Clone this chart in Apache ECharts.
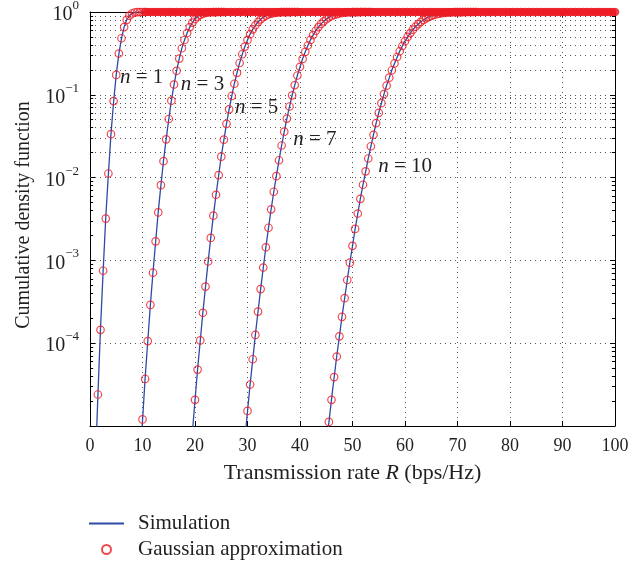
<!DOCTYPE html>
<html>
<head>
<meta charset="utf-8">
<script src="https://cdn.jsdelivr.net/npm/echarts@6/dist/echarts.min.js"></script>
<style>
html, body { margin: 0; padding: 0; background: #fff; }
#chart { width: 629px; height: 565px; }
</style>
</head>
<body>
<div id="chart"></div>
<script>
// rate grid used by both the simulation and the gaussian points (bps/Hz)
const rateGrid = [
    0, 0.5, 1, 1.5, 2, 2.5, 3, 3.5, 4, 4.5, 5, 5.5, 6, 6.5, 7, 7.5, 8, 8.5, 9, 9.5,
    10, 10.5, 11, 11.5, 12, 12.5, 13, 13.5, 14, 14.5, 15, 15.5, 16, 16.5, 17, 17.5, 18, 18.5, 19, 19.5,
    20, 20.5, 21, 21.5, 22, 22.5, 23, 23.5, 24, 24.5, 25, 25.5, 26, 26.5, 27, 27.5, 28, 28.5, 29, 29.5,
    30, 30.5, 31, 31.5, 32, 32.5, 33, 33.5, 34, 34.5, 35, 35.5, 36, 36.5, 37, 37.5, 38, 38.5, 39, 39.5,
    40, 40.5, 41, 41.5, 42, 42.5, 43, 43.5, 44, 44.5, 45, 45.5, 46, 46.5, 47, 47.5, 48, 48.5, 49, 49.5,
    50, 50.5, 51, 51.5, 52, 52.5, 53, 53.5, 54, 54.5, 55, 55.5, 56, 56.5, 57, 57.5, 58, 58.5, 59, 59.5,
    60, 60.5, 61, 61.5, 62, 62.5, 63, 63.5, 64, 64.5, 65, 65.5, 66, 66.5, 67, 67.5, 68, 68.5, 69, 69.5,
    70, 70.5, 71, 71.5, 72, 72.5, 73, 73.5, 74, 74.5, 75, 75.5, 76, 76.5, 77, 77.5, 78, 78.5, 79, 79.5,
    80, 80.5, 81, 81.5, 82, 82.5, 83, 83.5, 84, 84.5, 85, 85.5, 86, 86.5, 87, 87.5, 88, 88.5, 89, 89.5,
    90, 90.5, 91, 91.5, 92, 92.5, 93, 93.5, 94, 94.5, 95, 95.5, 96, 96.5, 97, 97.5, 98, 98.5, 99, 99.5,
    100
];

const curveNames = ['n = 1', 'n = 3', 'n = 5', 'n = 7', 'n = 10'];

// Gaussian approximation (circles), starting at gaussStart, step 0.5
const gaussStart = [1, 9.5, 19, 29.5, 44.5];
const gaussN1 = [3.2e-6, 2.4e-5, 1.45e-4, 7.5e-4, 3.2e-3, 1.12e-2, 3.35e-2, 8.4e-2, 0.174, 0.315,
    0.482, 0.658, 0.805, 0.903, 0.959, 0.986, 0.9957, 0.999, 0.9998, 1];
const gaussN3 = [3.7e-6, 1.2e-5, 3.7e-5, 1.06e-4, 2.9e-4, 7.1e-4, 1.7e-3, 3.8e-3, 8.1e-3, 1.58e-2,
    2.9e-2, 5.1e-2, 8.5e-2, 0.133, 0.195, 0.274, 0.365, 0.459, 0.558, 0.657,
    0.745, 0.82, 0.88, 0.924, 0.955, 0.975, 0.987, 0.9932, 0.9968, 0.9986,
    0.9994, 0.9998, 1];
const gaussN5 = [3.4e-6, 8.5e-6, 2.07e-5, 4.8e-5, 1.08e-4, 2.33e-4, 4.83e-4, 9.7e-4, 1.87e-3, 3.47e-3,
    6.2e-3, 1.07e-2, 1.79e-2, 2.87e-2, 4.46e-2, 6.68e-2, 9.68e-2, 0.136, 0.184, 0.242,
    0.309, 0.382, 0.46, 0.54, 0.618, 0.691, 0.758, 0.816, 0.864, 0.903,
    0.933, 0.955, 0.971, 0.982, 0.989, 0.9938, 0.9965, 0.9981, 0.999, 0.9995,
    0.9998, 1];
const gaussN7 = [7.1e-6, 1.52e-5, 3.17e-5, 6.4e-5, 1.26e-4, 2.41e-4, 4.5e-4, 8.2e-4, 1.44e-3, 2.48e-3,
    4.14e-3, 6.75e-3, 1.04e-2, 1.62e-2, 2.44e-2, 3.59e-2, 5.16e-2, 7.22e-2, 9.85e-2, 0.131,
    0.171, 0.218, 0.271, 0.33, 0.394, 0.46, 0.527, 0.594, 0.658, 0.718,
    0.772, 0.82, 0.861, 0.895, 0.923, 0.944, 0.961, 0.973, 0.982, 0.988,
    0.9927, 0.9955, 0.9973, 0.9984, 0.9991, 0.9995, 0.9997, 0.9998, 1];
const gaussN10 = [3.1e-6, 5.9e-6, 1.12e-5, 2.07e-5, 3.9e-5, 6.9e-5, 1.21e-4, 2.08e-4, 3.5e-4, 5.8e-4,
    9.4e-4, 1.5e-3, 2.4e-3, 3.68e-3, 5.54e-3, 8.2e-3, 1.19e-2, 1.7e-2, 2.39e-2, 3.29e-2,
    4.55e-2, 6.06e-2, 7.93e-2, 0.102, 0.129, 0.161, 0.198, 0.239, 0.286, 0.336,
    0.389, 0.444, 0.5, 0.556, 0.611, 0.664, 0.714, 0.76, 0.802, 0.839,
    0.871, 0.898, 0.921, 0.94, 0.955, 0.967, 0.976, 0.983, 0.988, 0.9918,
    0.9945, 0.9963, 0.9976, 0.9985, 0.9991, 0.9994, 0.9997, 0.9998, 1];

// simulation (blue lines), same grid; each line stops at simEnd
const simStart = [1, 9.5, 19, 29.5, 44.5];
const simEnd = [12, 27, 41.5, 56, 77];
const simN1 = [3.0e-6, 2.3e-5, 1.5e-4, 7.4e-4, 3.3e-3, 1.1e-2, 3.4e-2, 8.3e-2, 0.175, 0.313,
    0.481, 0.657, 0.806, 0.904, 0.958, 0.986, 0.9956, 0.9989, 0.9998, 1];
const simN3 = [3.5e-6, 1.15e-5, 3.8e-5, 1.05e-4, 2.9e-4, 7.2e-4, 1.68e-3, 3.85e-3, 8.0e-3, 1.6e-2,
    2.9e-2, 5.05e-2, 8.5e-2, 0.132, 0.196, 0.273, 0.366, 0.458, 0.559, 0.656,
    0.746, 0.821, 0.881, 0.924, 0.955, 0.975, 0.987, 0.9931, 0.9968, 0.9986,
    0.9994, 0.9998, 1];
const simN5 = [3.3e-6, 8.3e-6, 2.05e-5, 4.9e-5, 1.07e-4, 2.35e-4, 4.8e-4, 9.6e-4, 1.88e-3, 3.45e-3,
    6.2e-3, 1.06e-2, 1.8e-2, 2.86e-2, 4.47e-2, 6.7e-2, 9.66e-2, 0.137, 0.184, 0.243,
    0.308, 0.383, 0.46, 0.541, 0.617, 0.692, 0.757, 0.817, 0.863, 0.903,
    0.933, 0.955, 0.971, 0.982, 0.989, 0.9937, 0.9965, 0.9981, 0.999, 0.9995,
    0.9998, 1];
const simN7 = [7.0e-6, 1.5e-5, 3.2e-5, 6.3e-5, 1.27e-4, 2.4e-4, 4.5e-4, 8.1e-4, 1.45e-3, 2.47e-3,
    4.15e-3, 6.7e-3, 1.05e-2, 1.61e-2, 2.45e-2, 3.58e-2, 5.17e-2, 7.2e-2, 9.87e-2, 0.131,
    0.172, 0.217, 0.272, 0.33, 0.393, 0.461, 0.526, 0.595, 0.657, 0.719,
    0.771, 0.82, 0.862, 0.895, 0.922, 0.944, 0.961, 0.973, 0.982, 0.988,
    0.9926, 0.9955, 0.9972, 0.9984, 0.9991, 0.9995, 0.9997, 0.9998, 1];
const simN10 = [3.0e-6, 6.0e-6, 1.1e-5, 2.1e-5, 3.85e-5, 7.0e-5, 1.2e-4, 2.1e-4, 3.48e-4, 5.8e-4,
    9.5e-4, 1.49e-3, 2.41e-3, 3.66e-3, 5.56e-3, 8.2e-3, 1.18e-2, 1.71e-2, 2.38e-2, 3.3e-2,
    4.54e-2, 6.07e-2, 7.9e-2, 0.102, 0.13, 0.16, 0.199, 0.239, 0.285, 0.337,
    0.388, 0.445, 0.5, 0.557, 0.61, 0.665, 0.713, 0.761, 0.801, 0.84,
    0.87, 0.899, 0.92, 0.941, 0.955, 0.967, 0.976, 0.983, 0.988, 0.9917,
    0.9945, 0.9962, 0.9976, 0.9985, 0.9991, 0.9994, 0.9997, 0.9998, 1];

// circles from every curve sit on 10^0 from here to the end of the axis
const plateauStart = 10.5;
const plateauLevel = 1;

// where the "n = ..." annotations start (left edge, vertical centre)
const labelRates = [5.7, 17.3, 27.6, 38.7, 54.9];
const labelLevels = [0.16, 0.135, 0.071, 0.029, 0.0138];

const minorMantissa = [2, 3, 4, 5, 6, 7, 8, 9];
const minorDecades = [1e-5, 1e-4, 1e-3, 1e-2, 1e-1];

const FONT = 'Liberation Serif';
const TEXT = '#231f20';
const BLUE = '#2d4aa5';
const RED = '#ec1c24';
const DOTTED = { type: [1, 4], color: '#555', width: 1 };

function pairUp(start, values) {
    const i0 = rateGrid.indexOf(start);
    return values.map((v, i) => [rateGrid[i0 + i], v]);
}

const gaussSets = [gaussN1, gaussN3, gaussN5, gaussN7, gaussN10];
const simSets = [simN1, simN3, simN5, simN7, simN10];

const minorValues = [];
minorDecades.forEach(d => minorMantissa.forEach(m => minorValues.push(+(m * d).toPrecision(3))));

const series = [];

simSets.forEach((vals, k) => {
    series.push({
        name: 'Simulation',
        type: 'line',
        data: pairUp(simStart[k], vals).concat([[simEnd[k], 1]]),
        symbol: 'none',
        showSymbol: false,
        lineStyle: { color: BLUE, width: 1.3 },
        itemStyle: { color: BLUE },
        z: 3,
        markPoint: {
            symbol: 'circle',
            symbolSize: 0,
            silent: true,
            data: [{ name: curveNames[k], coord: [labelRates[k], labelLevels[k]] }],
            label: {
                show: true,
                position: 'right',
                distance: 0,
                fontFamily: FONT,
                fontSize: 21,
                color: TEXT,
                formatter: p => '{i|n}' + p.name.slice(1),
                rich: { i: { fontStyle: 'italic', fontFamily: FONT, fontSize: 21, color: TEXT } },
            },
        },
    });
});

const circleStyle = { color: 'transparent', borderColor: RED, borderWidth: 1.2 };

gaussSets.forEach((vals, k) => {
    series.push({
        name: 'Gaussian approximation',
        type: 'scatter',
        data: pairUp(gaussStart[k], vals),
        symbol: 'circle',
        symbolSize: 7.5,
        itemStyle: circleStyle,
        z: 4,
    });
});

const minorGrid = minorValues.map(v => ({ yAxis: v, lineStyle: DOTTED }));
const minorTicks = [];
minorValues.forEach(v => {
    minorTicks.push([{ coord: [0, v], lineStyle: { type: 'solid', color: '#000', width: 1 } }, { coord: [0.6, v] }]);
    minorTicks.push([{ coord: [99.4, v], lineStyle: { type: 'solid', color: '#000', width: 1 } }, { coord: [100, v] }]);
});

// the overlapping circles along 10^0 merge into a solid band
series.push({
    name: 'Gaussian approximation',
    type: 'scatter',
    data: rateGrid.filter(r => r >= plateauStart).map(r => [r, plateauLevel]),
    symbol: 'circle',
    symbolSize: 7.5,
    itemStyle: { color: RED, borderColor: RED, borderWidth: 1 },
    z: 4,
    markLine: {
        silent: true,
        symbol: ['none', 'none'],
        label: { show: false },
        animation: false,
        z: 1,
        data: minorGrid.concat(minorTicks),
    },
});

const yFormatter = v => {
    const e = Math.round(Math.log10(v));
    if (e < -4) return '';
    return '{b|10}{s|' + (e === 0 ? '0' : '\u2212' + (-e)) + '}';
};

const axisLine = { show: true, onZero: false, lineStyle: { color: '#000', width: 1 } };

const option = {
    animation: false,
    backgroundColor: '#fff',
    grid: { left: 90, right: 14, top: 12, bottom: 139, containLabel: false, outerBoundsMode: 'none' },
    legend: {
        data: [
            { name: 'Simulation', itemStyle: { opacity: 0 } },
            { name: 'Gaussian approximation' },
        ],
        orient: 'vertical',
        left: 88,
        top: 513,
        padding: 0,
        itemWidth: 35,
        itemHeight: 9,
        itemGap: 5,
        selectedMode: false,
        textStyle: { fontFamily: FONT, fontSize: 21, color: TEXT, lineHeight: 21, padding: [0, 0, 0, 9] },
    },
    xAxis: [
        {
            type: 'value',
            position: 'bottom',
            min: 0,
            max: 100,
            interval: 10,
            axisLine,
            axisTick: { inside: true, length: 5, lineStyle: { color: '#000' } },
            axisLabel: { fontFamily: FONT, fontSize: 18, color: TEXT, margin: 11 },
            splitLine: { show: true, lineStyle: DOTTED },
            name: 'Transmission rate {i|R} (bps/Hz)',
            nameLocation: 'middle',
            nameGap: 36,
            nameTextStyle: {
                fontFamily: FONT, fontSize: 22, color: TEXT,
                rich: { i: { fontStyle: 'italic', fontFamily: FONT, fontSize: 22, color: TEXT } },
            },
        },
        {
            type: 'value',
            position: 'top',
            min: 0,
            max: 100,
            interval: 10,
            axisLine,
            axisTick: { inside: true, length: 5, lineStyle: { color: '#000' } },
            axisLabel: { show: false },
            splitLine: { show: false },
        },
    ],
    yAxis: [
        {
            type: 'log',
            logBase: 10,
            position: 'left',
            min: 1e-5,
            max: 1,
            axisLine,
            axisTick: { inside: true, length: 5, lineStyle: { color: '#000' } },
            axisLabel: {
                margin: 11,
                formatter: yFormatter,
                rich: {
                    b: { fontFamily: FONT, fontSize: 20, color: TEXT, lineHeight: 26, verticalAlign: 'bottom' },
                    s: { fontFamily: FONT, fontSize: 13, color: TEXT, lineHeight: 26, verticalAlign: 'top' },
                },
            },
            splitLine: { show: true, lineStyle: DOTTED },
            name: 'Cumulative density function',
            nameLocation: 'middle',
            nameGap: 56,
            nameTextStyle: { fontFamily: FONT, fontSize: 20, color: TEXT, padding: [0, 0, 0, 8] },
        },
        {
            type: 'log',
            logBase: 10,
            position: 'right',
            min: 1e-5,
            max: 1,
            axisLine,
            axisTick: { inside: true, length: 5, lineStyle: { color: '#000' } },
            axisLabel: { show: false },
            splitLine: { show: false },
        },
    ],
    series,
};

const chart = echarts.init(document.getElementById('chart'), null, { renderer: 'canvas' });
chart.setOption(option);
</script>
</body>
</html>
